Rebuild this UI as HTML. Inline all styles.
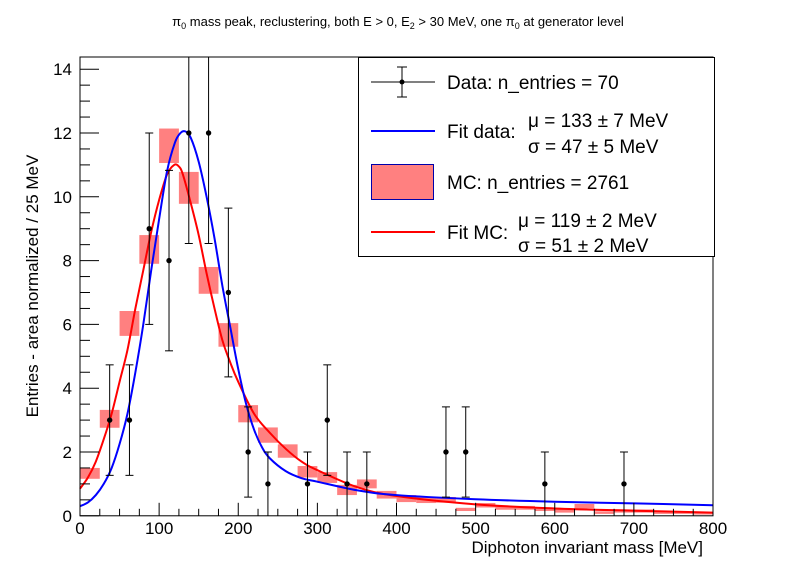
<!DOCTYPE html>
<html><head><meta charset="utf-8">
<style>
html,body{margin:0;padding:0;background:#fff;}
svg{display:block;font-family:"Liberation Sans",Arial,sans-serif;}
</style></head>
<body>
<svg id="chart" width="796" height="572" viewBox="0 0 796 572" xmlns="http://www.w3.org/2000/svg">
  <text x="398" y="26" font-size="13" text-anchor="middle">π<tspan font-size="9" dy="3">0</tspan><tspan dy="-3"> mass peak, reclustering, both E &gt; 0, E</tspan><tspan font-size="9" dy="3">2</tspan><tspan dy="-3"> &gt; 30 MeV, one π</tspan><tspan font-size="9" dy="3">0</tspan><tspan dy="-3"> at generator level</tspan></text>
  <g id="plot"></g>
  <text transform="translate(38,286) rotate(-90)" font-size="17" text-anchor="middle">Entries - area normalized / 25 MeV</text>
  <text x="703" y="553" font-size="17" text-anchor="end">Diphoton invariant mass [MeV]</text>
  <g>
    <rect x="358.5" y="57.5" width="356" height="199" fill="#fff" stroke="#000" stroke-width="1"/>
    <g>
      <line x1="371" y1="82" x2="435" y2="82" stroke="#000"/>
      <line x1="402" y1="67" x2="402" y2="97" stroke="#000"/>
      <line x1="397" y1="67" x2="407" y2="67" stroke="#000"/>
      <line x1="397" y1="97" x2="407" y2="97" stroke="#000"/>
      <circle cx="402" cy="82" r="2.5" fill="#000"/>
      <text x="447" y="89" font-size="19">Data: n_entries = 70</text>
    </g>
    <g>
      <line x1="371" y1="131" x2="435" y2="131" stroke="#0000ff" stroke-width="2"/>
      <text x="447" y="138" font-size="19">Fit data:</text>
      <text x="528" y="127" font-size="19">μ = 133 ± 7 MeV</text>
      <text x="528" y="153" font-size="19">σ = 47 ± 5 MeV</text>
    </g>
    <g>
      <rect x="371.5" y="164.5" width="62" height="35" fill="#ff8080" stroke="#0000aa" stroke-width="1"/>
      <text x="447" y="189" font-size="19">MC: n_entries = 2761</text>
    </g>
    <g>
      <line x1="371" y1="232" x2="435" y2="232" stroke="#ff0000" stroke-width="2"/>
      <text x="447" y="239" font-size="19">Fit MC:</text>
      <text x="518" y="227" font-size="19">μ = 119 ± 2 MeV</text>
      <text x="518" y="252" font-size="19">σ = 51 ± 2 MeV</text>
    </g>
  </g>
</svg>
<script>
// ---- data ----
const mcValues = [1.33,3.04,6.03,8.35,11.6,10.28,7.38,5.67,3.2,2.53,2.03,1.38,1.2,0.81,1.0,0.66,0.54,0.5,0.5,0.2,0.33,0.25,0.25,0.2,0.15,0.3,0.1,0.15,0.15,0.1,0.1,0.08];
const mcErrors = [0.17,0.28,0.39,0.45,0.54,0.5,0.42,0.37,0.27,0.24,0.21,0.18,0.17,0.16,0.14,0.12,0.11,0.1,0.09,0.05,0.07,0.06,0.06,0.05,0.05,0.07,0.04,0.05,0.05,0.04,0.04,0.04];
const dataX = [37.5,62.5,87.5,112.5,137.5,162.5,187.5,212.5,237.5,287.5,312.5,337.5,362.5,462.5,487.5,587.5,687.5];
const dataY = [3,3,9,8,12,12,7,2,1,1,3,1,1,2,2,1,1];
const fitDataX = [0,10,20,30,40,50,60,70,80,90,100,110,120,127,133,140,150,160,170,180,190,200,210,220,230,240,260,280,300,350,400,500,600,700,800];
const fitDataY = [0.3,0.42,0.65,1.0,1.5,2.25,3.2,4.5,6.0,7.7,9.3,10.8,11.7,12.0,12.05,11.85,11.1,10.0,8.7,7.2,5.9,4.6,3.5,2.7,2.15,1.8,1.4,1.18,1.07,0.8,0.65,0.52,0.44,0.39,0.33];
const fitMcX = [0,10,20,30,40,50,60,70,80,90,100,110,119,125,130,140,150,160,170,180,190,200,220,240,260,280,300,350,400,500,600,700,800];
const fitMcY = [0.85,1.2,1.7,2.4,3.2,4.2,5.2,6.5,7.7,8.9,9.9,10.7,11.0,10.95,10.7,9.8,8.8,7.6,6.5,5.5,4.8,4.2,3.2,2.6,2.1,1.7,1.43,0.9,0.62,0.36,0.23,0.16,0.1];
const binWidth = 25;
const xTicks = [0,100,200,300,400,500,600,700,800];
const yTicks = [0,2,4,6,8,10,12,14];

// ---- axes ----
const X0=80, X1=713, Y0=515.8, YT=57;
const xMax=800, yPerUnit=31.9;
const sx = v => X0 + v/xMax*(X1-X0);
const sy = v => Y0 - v*yPerUnit;
const NS='http://www.w3.org/2000/svg';
const plot=document.getElementById('plot');
function mk(tag, attrs, parent){const e=document.createElementNS(NS,tag);for(const k in attrs)e.setAttribute(k,attrs[k]);(parent||plot).appendChild(e);return e;}

// MC boxes
const mcG=mk('g',{});


mcValues.forEach((v,i)=>{
  const e=mcErrors[i];
  const r=mk('rect',{x:sx(i*binWidth),y:sy(v+e),width:sx((i+1)*binWidth)-sx(i*binWidth),height:Math.max(2,sy(v-e)-sy(v+e)),fill:'#ff8080'},mcG);
  
  
});

// fit curves (Catmull-Rom smoothing)
function curve(xs,ys,color,name){
  const P=xs.map((x,i)=>[sx(x),sy(ys[i])]);
  let d='M'+P[0][0]+','+P[0][1];
  for(let i=0;i<P.length-1;i++){
    const p0=P[Math.max(0,i-1)],p1=P[i],p2=P[i+1],p3=P[Math.min(P.length-1,i+2)];
    const c1=[p1[0]+(p2[0]-p0[0])/6,p1[1]+(p2[1]-p0[1])/6];
    const c2=[p2[0]-(p3[0]-p1[0])/6,p2[1]-(p3[1]-p1[1])/6];
    d+=' C'+c1[0]+','+c1[1]+' '+c2[0]+','+c2[1]+' '+p2[0]+','+p2[1];
  }
  const p=mk('path',{d:d,fill:'none',stroke:color,'stroke-width':2,'stroke-linejoin':'round'});
  
  
}
curve(fitMcX,fitMcY,'#ff0000','fit-mc-curve');
curve(fitDataX,fitDataY,'#0000ff','fit-data-curve');

// data points
const dG=mk('g',{});


dataX.forEach((x,i)=>{
  const v=dataY[i], e=Math.sqrt(v);
  const g=mk('g',{},dG);
  
  
  const px=sx(x), top=Math.max(YT,sy(v+e)), bot=sy(Math.max(0,v-e));
  mk('line',{x1:px,y1:top,x2:px,y2:bot,stroke:'#000'},g);
  if(sy(v+e)>YT) mk('line',{x1:px-4,y1:top,x2:px+4,y2:top,stroke:'#000'},g);
  if(v-e>0) mk('line',{x1:px-4,y1:bot,x2:px+4,y2:bot,stroke:'#000'},g);
  mk('circle',{cx:px,cy:sy(v),r:2.7,fill:'#000'},g);
});

// frame
const fr=mk('rect',{x:X0,y:YT,width:X1-X0,height:Y0-YT,fill:'none',stroke:'#000','stroke-width':1});



// y ticks
const yAx=mk('g',{});


for(let v=0; v<=14.01; v+=0.5){
  const major=Math.abs(v/2-Math.round(v/2))<1e-6;
  mk('line',{x1:X0,y1:sy(v),x2:X0+(major?19:10),y2:sy(v),stroke:'#000'},yAx);
}
yTicks.forEach(v=>{
  const t=mk('text',{x:72,y:sy(v)+6,'font-size':17,'text-anchor':'end'},yAx);
  t.textContent=v;
  
  
});
// x ticks
const xAx=mk('g',{});


for(let v=0; v<=800; v+=25){
  const major=v%100===0;
  mk('line',{x1:sx(v),y1:Y0,x2:sx(v),y2:Y0-(major?13:7),stroke:'#000'},xAx);
}
xTicks.forEach(v=>{
  const t=mk('text',{x:sx(v),y:534,'font-size':17,'text-anchor':'middle'},xAx);
  t.textContent=v;
  
  
});
</script>
</body></html>
